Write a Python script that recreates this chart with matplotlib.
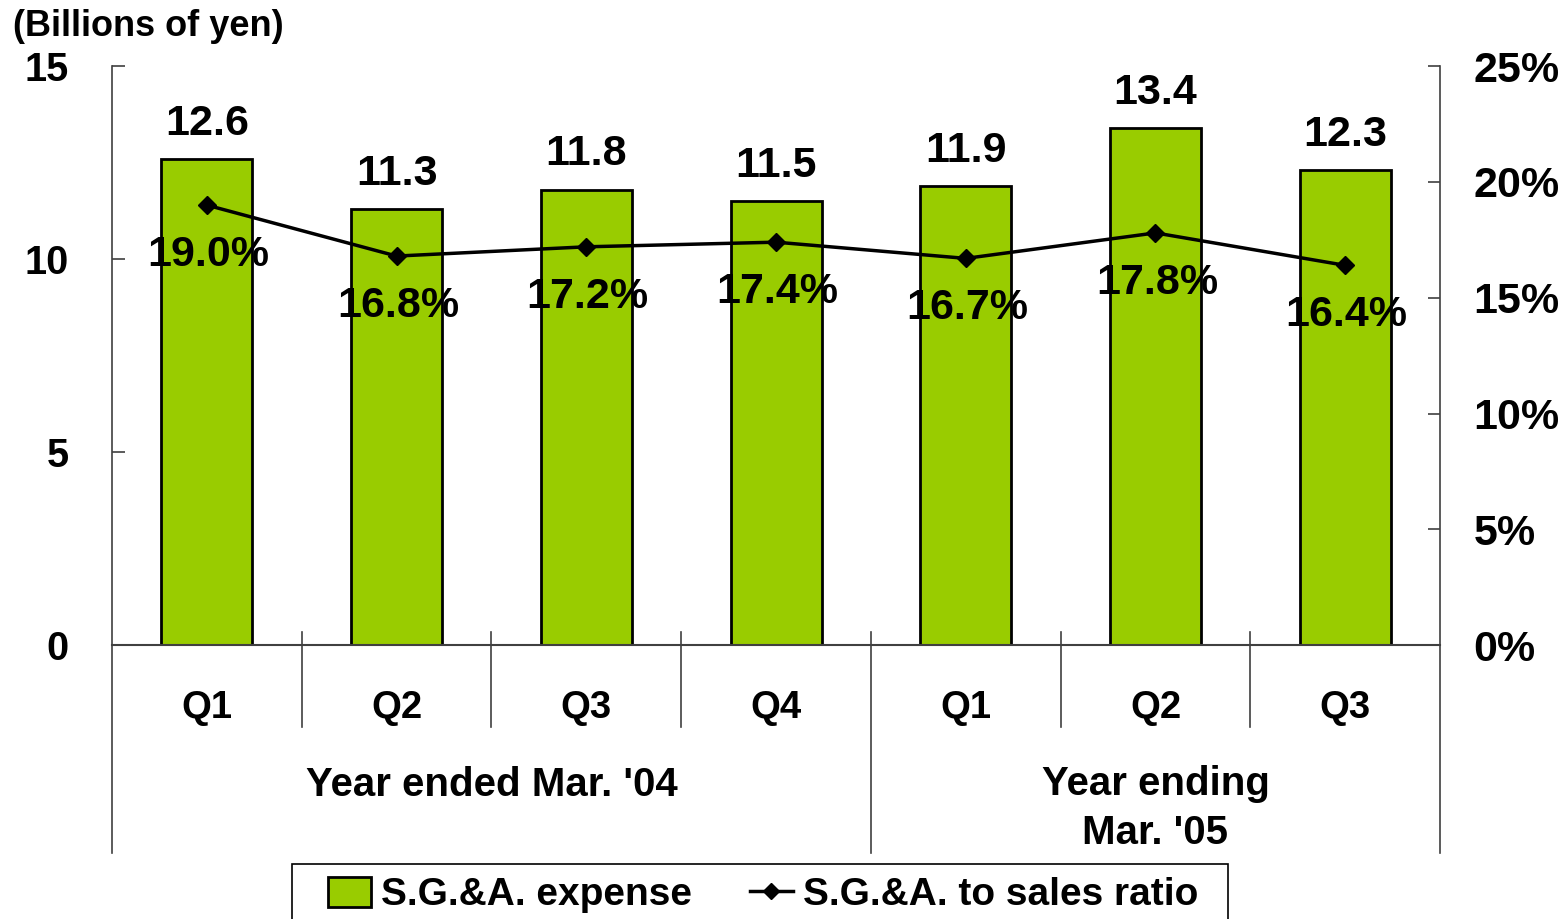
import matplotlib.pyplot as plt
import numpy as np
from matplotlib.lines import Line2D
from matplotlib.patches import Patch, Rectangle

plt.rcParams['font.family'] = ['Liberation Sans', 'DejaVu Sans']
plt.rcParams['font.weight'] = 'bold'

# datos
quarters = ["Q1", "Q2", "Q3", "Q4", "Q1", "Q2", "Q3"]
sga_expense = [12.6, 11.3, 11.8, 11.5, 11.9, 13.4, 12.3]
sga_ratio = [19.0, 16.8, 17.2, 17.4, 16.7, 17.8, 16.4]
years = ["Year ended Mar. '04", "Year ending\nMar. '05"]

bar_color = '#99CC00'
axis_color = '#404040'

fig = plt.figure(figsize=(15.67, 9.19), dpi=100)
ax = fig.add_axes([0.0715, 0.298, 0.8475, 0.630])
x = np.arange(len(quarters))

ax.bar(x, sga_expense, width=0.48, color=bar_color, edgecolor='black', linewidth=2, zorder=2)
ax.set_xlim(-0.5, len(quarters) - 0.5)
ax.set_ylim(0, 15)
ax.set_yticks([0, 5, 10, 15])
ax.set_xticks([])
ax.tick_params(axis='y', direction='in', length=9, width=1.2, color=axis_color,
               labelsize=28.5, pad=31)
for s in ['top', 'right']:
    ax.spines[s].set_visible(False)
ax.spines['left'].set_color(axis_color)
ax.spines['bottom'].set_color(axis_color)
ax.spines['left'].set_linewidth(1.2)
ax.spines['bottom'].set_linewidth(1.5)

for xi, v in zip(x, sga_expense):
    ax.annotate(f"{v:.1f}", (xi, v), xytext=(0, 11), textcoords='offset points',
                ha='center', va='bottom', fontsize=31, fontweight='bold')

# eje derecho
ax2 = ax.twinx()
ax2.plot(x, sga_ratio, color='black', linewidth=2.5, marker='D', markersize=9, zorder=3)
ax2.set_ylim(0, 25)
ax2.set_yticks([0, 5, 10, 15, 20, 25])
ax2.set_yticklabels([f"{t}%" for t in [0, 5, 10, 15, 20, 25]])
ax2.tick_params(axis='y', direction='in', length=9, width=1.2, color=axis_color,
                labelsize=31, pad=24)
for s in ['top', 'left', 'bottom']:
    ax2.spines[s].set_visible(False)
ax2.spines['right'].set_color(axis_color)
ax2.spines['right'].set_linewidth(1.2)

for xi, v in zip(x, sga_ratio):
    ax2.annotate(f"{v:.1f}%", (xi, v), xytext=(1, -36), textcoords='offset points',
                 ha='center', va='center', fontsize=31, fontweight='bold', zorder=4)

# eje de categorias con grupos
tr = ax.get_xaxis_transform()
for b in [0.5, 1.5, 2.5, 4.5, 5.5]:
    ax.plot([b, b], [0.0225, -0.1416], color=axis_color, lw=1.2, transform=tr, clip_on=False)
for b in [-0.5, 3.5, 6.5]:
    ax.plot([b, b], [0.0225 if b == 3.5 else 0, -0.359], color=axis_color, lw=1.2,
            transform=tr, clip_on=False)
for xi, q in zip(x, quarters):
    ax.text(xi, -0.108, q, transform=tr, ha='center', va='center', fontsize=27.5, fontweight='bold')
ax.text(1.5, -0.242, years[0], transform=tr, ha='center', va='center', fontsize=29, fontweight='bold')
ax.text(5.0, -0.282, years[1], transform=tr, ha='center', va='center', fontsize=29,
        fontweight='bold', linespacing=1.35)

fig.text(0.008, 0.971, "(Billions of yen)", ha='left', va='center', fontsize=26, fontweight='bold')

# leyenda (marco dibujado aparte, cortado por el borde inferior)
fig.patches.append(Rectangle((292 / 1567, -0.02), 936 / 1567, 0.02 + 1 - 864 / 919,
                             transform=fig.transFigure, fill=False, edgecolor='black', lw=1.2))
handles = [Patch(facecolor=bar_color, edgecolor='black', linewidth=2),
           Line2D([0], [0], color='black', lw=2.5, marker='D', markersize=8)]
leg = fig.legend(handles, ["S.G.&A. expense", "S.G.&A. to sales ratio"], loc='center',
                 bbox_to_anchor=(0.487, 1 - 895 / 919), ncol=2, frameon=False,
                 handlelength=1.1, handleheight=0.8,
                 handletextpad=0.25, columnspacing=1.5, borderpad=0.2, borderaxespad=0,
                 prop={'weight': 'bold', 'size': 28})

fig.savefig("out.png", dpi=100)
